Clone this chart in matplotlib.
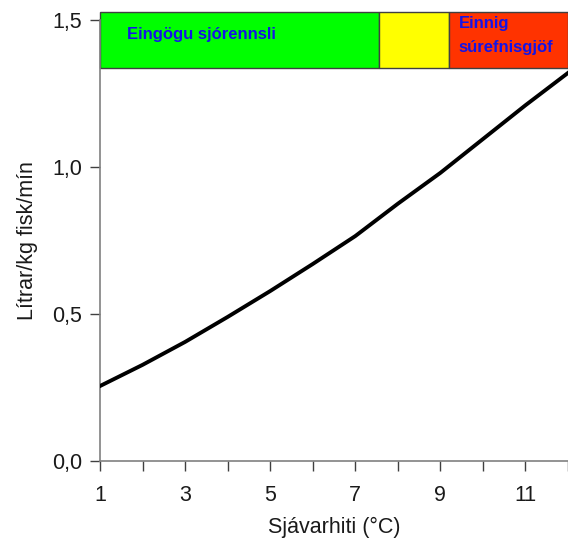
import matplotlib
matplotlib.use("Agg")
import matplotlib.pyplot as plt
from matplotlib.patches import Rectangle
from matplotlib.ticker import MultipleLocator, FixedLocator, FuncFormatter

plt.rcParams['font.family'] = ['Liberation Sans', 'DejaVu Sans']

# Water flow requirement by sea temperature
temperature = [1, 2, 3, 4, 5, 6, 7, 8, 9, 10, 11, 12]
flow = [0.255, 0.327, 0.405, 0.49, 0.578, 0.67, 0.765, 0.875, 0.98, 1.095, 1.21, 1.32]

# Operating zones along the top of the chart
zone_edges = [1, 7.55, 9.2, 12]
zone_colors = ['#00ff00', '#ffff00', '#ff3300']
zone_labels = ['Eingögu sjórennsli', '', 'Einnig\nsúrefnisgjöf']
band_bottom = 1.337
band_top = 1.528

fig = plt.figure(figsize=(5.68, 5.40), dpi=100)
ax = fig.add_axes([100 / 568, 1 - 461 / 540, 468 / 568, 441 / 540])

ax.plot(temperature, flow, color='black', lw=2.8, solid_joinstyle='round', zorder=3)

for i, col in enumerate(zone_colors):
    x0, x1 = zone_edges[i], zone_edges[i + 1]
    ax.add_patch(Rectangle((x0, band_bottom), x1 - x0, band_top - band_bottom,
                           facecolor=col, edgecolor='#404040', lw=1.0, zorder=2,
                           clip_on=False))

ax.text(1.63, 1.449, zone_labels[0], color='#1414e6',
        fontsize=12, fontweight='bold', ha='left', va='center', zorder=4)
ax.text(9.43, 1.447, zone_labels[2], color='#1414e6',
        fontsize=12, fontweight='bold', ha='left', va='center', linespacing=1.8, zorder=4)

ax.set_xlim(1, 12)
ax.set_ylim(0, 1.5)
ax.xaxis.set_major_locator(FixedLocator([1, 3, 5, 7, 9, 11]))
ax.xaxis.set_minor_locator(FixedLocator([2, 4, 6, 8, 10, 12]))
ax.yaxis.set_major_locator(MultipleLocator(0.5))
ax.yaxis.set_major_formatter(FuncFormatter(lambda v, p: f"{v:.1f}".replace('.', ',')))

for side in ('top', 'right'):
    ax.spines[side].set_visible(False)
for side in ('left', 'bottom'):
    ax.spines[side].set_color('#808080')
    ax.spines[side].set_linewidth(1.2)

ax.tick_params(axis='both', which='both', direction='out', color='#404040', width=1.0,
               labelsize=15.5, labelcolor='#1a1a1a')
ax.tick_params(axis='both', which='major', length=7)
ax.tick_params(axis='x', which='minor', length=7)
ax.tick_params(axis='x', pad=10)
ax.tick_params(axis='y', pad=6)

ax.set_xlabel('Sjávarhiti (°C)', fontsize=15.5, color='#1a1a1a', labelpad=8)
ax.set_ylabel('Lítrar/kg fisk/mín', fontsize=15.5, color='#1a1a1a', labelpad=10)

fig.savefig('out.png', dpi=100, facecolor='white')
